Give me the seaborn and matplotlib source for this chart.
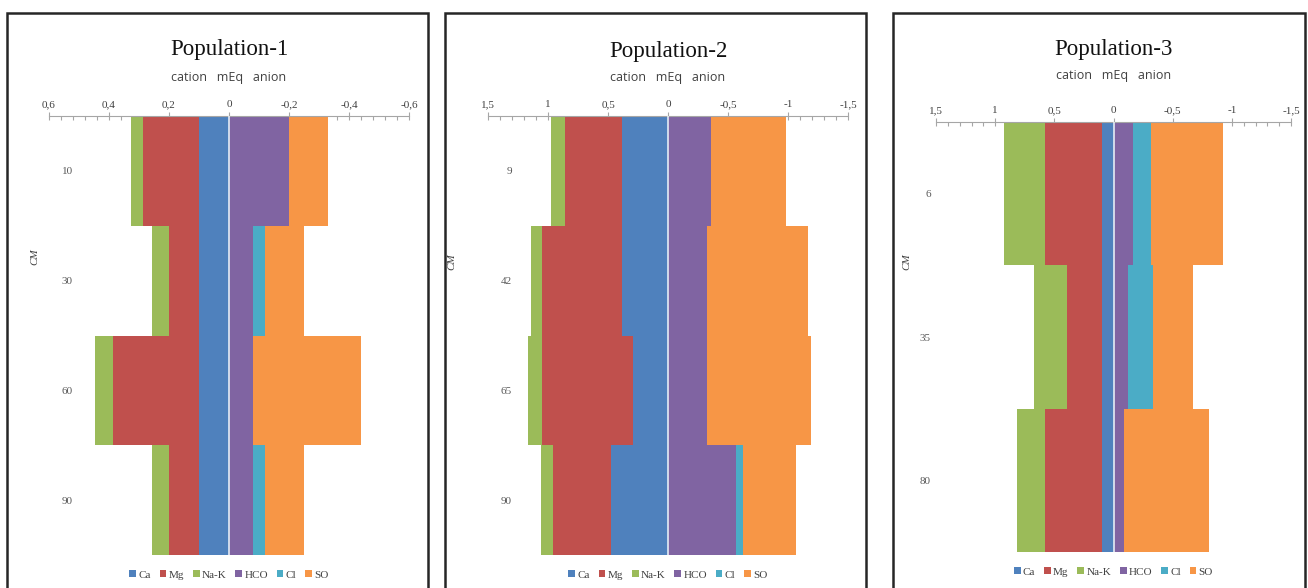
import numpy as np
import pandas as pd
import seaborn as sns
import matplotlib
matplotlib.use("Agg")
import matplotlib.pyplot as plt
from matplotlib.patches import Patch, Rectangle
from matplotlib.ticker import MultipleLocator, FuncFormatter

# ---------------- data ----------------
titles = ["Population-1", "Population-2", "Population-3"]

depth_1 = ["10", "30", "60", "90"]
ca_1 = [0.099, 0.099, 0.099, 0.099]
mg_1 = [0.188, 0.100, 0.289, 0.100]
nak_1 = [0.040, 0.059, 0.059, 0.059]
hco_1 = [0.200, 0.081, 0.081, 0.081]
cl_1 = [0.000, 0.039, 0.000, 0.039]
so_1 = [0.131, 0.130, 0.359, 0.130]

depth_2 = ["9", "42", "65", "90"]
ca_2 = [0.380, 0.380, 0.292, 0.478]
mg_2 = [0.481, 0.667, 0.755, 0.481]
nak_2 = [0.111, 0.098, 0.120, 0.097]
hco_2 = [0.362, 0.325, 0.325, 0.564]
cl_2 = [0.000, 0.000, 0.000, 0.061]
so_2 = [0.625, 0.842, 0.864, 0.439]

depth_3 = ["6", "35", "80"]
ca_3 = [0.098, 0.098, 0.098]
mg_3 = [0.479, 0.291, 0.479]
nak_3 = [0.352, 0.287, 0.239]
hco_3 = [0.164, 0.122, 0.085]
cl_3 = [0.149, 0.216, 0.000]
so_3 = [0.609, 0.333, 0.718]

ion_names = ["Ca", "Mg", "Na-K", "HCO", "Cl", "SO"]
ion_colors = ["#4F81BD", "#C0504D", "#9BBB59", "#8064A2", "#4BACC6", "#F79646"]

x_limits = [0.6, 1.5, 1.5]
x_major = [0.2, 0.5, 0.5]
x_minor = [0.04, 0.1, 0.1]

panels = [
    (depth_1, ca_1, mg_1, nak_1, hco_1, cl_1, so_1),
    (depth_2, ca_2, mg_2, nak_2, hco_2, cl_2, so_2),
    (depth_3, ca_3, mg_3, nak_3, hco_3, cl_3, so_3),
]

# ---------------- style ----------------
sns.set_theme(style="white")
plt.rcParams["font.family"] = ["Liberation Serif", "DejaVu Serif"]

W, H = 1308, 588
fig = plt.figure(figsize=(W / 100, H / 100), dpi=100)

# axes boxes in pixels: (left, top, right, bottom)
boxes = [(49, 116, 409, 555), (488, 116, 848, 555), (936, 122, 1291, 552)]
frames = [(7, 13, 428), (445, 13, 866), (893, 13, 1305)]
ytick_pad_px = [-24, -24, 5]
cm_pos = [(35, 257), (452, 262), (907, 262)]
title_y = [50, 52, 50]
sub_y = [78, 78, 76]


def fmt(v, pos):
    v = round(v, 2)
    if abs(v) < 1e-9:
        return "0"
    return ("%g" % v).replace(".", ",")


for i, (depth, ca, mg, nak, hco, cl, so) in enumerate(panels):
    l, t, r, b = boxes[i]
    ax = fig.add_axes([l / W, 1 - b / H, (r - l) / W, (b - t) / H])
    df = pd.DataFrame({
        "depth": depth,
        "Ca": ca, "Mg": mg, "Na-K": nak,
        "HCO": hco, "Cl": cl, "SO": so,
    })
    # cumulative stacks (cations positive, anions negative)
    df["c3"] = df["Ca"] + df["Mg"] + df["Na-K"]
    df["c2"] = df["Ca"] + df["Mg"]
    df["c1"] = df["Ca"]
    df["a3"] = -(df["HCO"] + df["Cl"] + df["SO"])
    df["a2"] = -(df["HCO"] + df["Cl"])
    df["a1"] = -df["HCO"]
    layers = [("c3", ion_colors[2]), ("c2", ion_colors[1]), ("c1", ion_colors[0]),
              ("a3", ion_colors[5]), ("a2", ion_colors[4]), ("a1", ion_colors[3])]
    for col, colr in layers:
        sns.barplot(data=df, x=col, y="depth", orient="h", color=colr,
                    width=1.0, saturation=1, linewidth=0, ax=ax, order=depth)
    ax.axvline(0, color="#E4ECF5", lw=1.2, zorder=5)

    lim = x_limits[i]
    ax.set_xlim(lim, -lim)
    ax.set_ylim(len(depth) - 0.5, -0.5)
    ax.xaxis.tick_top()
    ax.xaxis.set_major_locator(MultipleLocator(x_major[i]))
    ax.xaxis.set_minor_locator(MultipleLocator(x_minor[i]))
    ax.xaxis.set_major_formatter(FuncFormatter(fmt))
    ax.tick_params(axis="x", which="major", direction="inout", length=6, width=0.8,
                   color="#A6A6A6", labelsize=8, labelcolor="#404040", pad=2,
                   top=True, bottom=False)
    ax.tick_params(axis="x", which="minor", direction="in", length=3, width=0.8,
                   color="#A6A6A6", top=True, bottom=False)
    ax.tick_params(axis="y", length=0, labelsize=8, labelcolor="#595959",
                   pad=ytick_pad_px[i] * 0.72)
    for s in ["left", "right", "bottom"]:
        ax.spines[s].set_visible(False)
    ax.spines["top"].set_visible(True)
    ax.spines["top"].set_color("#A6A6A6")
    ax.spines["top"].set_linewidth(0.8)
    ax.set_xlabel("")
    ax.set_ylabel("")
    ax.grid(False)
    ax.set_facecolor("none")

    cx = (l + r) / 2 / W
    fig.text(cx, 1 - title_y[i] / H, titles[i], ha="center", va="center",
             fontsize=16.5, color="#111111")
    fig.text(cx, 1 - sub_y[i] / H, "cation   mEq   anion", ha="center", va="center",
             fontsize=9, color="#404040", family=["Open Sans", "DejaVu Sans"])
    fig.text(cm_pos[i][0] / W, 1 - cm_pos[i][1] / H, "CM", rotation=90,
             ha="center", va="center", fontsize=8, style="italic", color="#404040")

    handles = [Patch(facecolor=c, edgecolor="none") for c in ion_colors]
    ax.legend(handles, ion_names, loc="center", bbox_to_anchor=(0.5, -20 / (b - t)),
              ncol=6, frameon=False, fontsize=8, handlelength=0.6, handleheight=0.6,
              handletextpad=0.2, columnspacing=0.8, labelcolor="#404040")

    fl, ft, fr = frames[i]
    fig.add_artist(Rectangle((fl / W, -0.05), (fr - fl) / W, (1 - ft / H) + 0.05,
                             transform=fig.transFigure, fill=False,
                             edgecolor="#262626", lw=1.8))

fig.savefig("out.png", dpi=100)
